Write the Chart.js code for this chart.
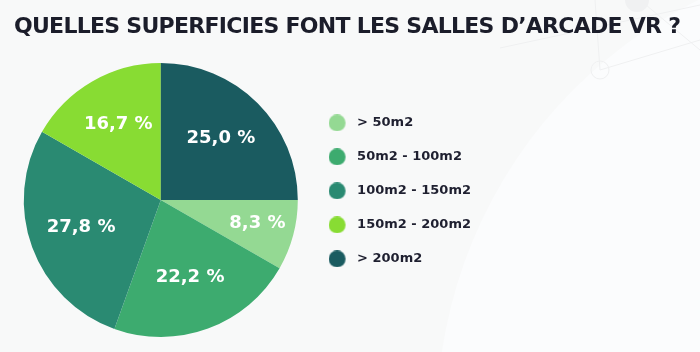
<!DOCTYPE html>
<html>
<head>
<meta charset="utf-8">
<script src="https://cdn.jsdelivr.net/npm/chart.js@4"></script>
<style>
  html, body { margin: 0; padding: 0; background: #f8f9f9; }
  #wrap { width: 700px; height: 352px; position: relative; }
</style>
</head>
<body>
<div id="wrap"><canvas id="pieChart"></canvas></div>
<script>
// data
const categories = ["> 50m2", "50m2 - 100m2", "100m2 - 150m2", "150m2 - 200m2", "> 200m2"];
const shares = [8.3, 22.2, 27.8, 16.7, 25.0];
const colors = ["#94d993", "#3dab6f", "#2a8a72", "#88dc33", "#1a5b60"];
const titleText = "QUELLES SUPERFICIES FONT LES SALLES D\u2019ARCADE VR ?";

const FONT = "'DejaVu Sans', 'Open Sans', sans-serif";

// faint decoration behind the chart (top right)
const backdrop = {
  id: "backdrop",
  beforeDraw(chart) {
    const ctx = chart.ctx;
    ctx.save();
    ctx.fillStyle = "#fbfcfd";
    ctx.beginPath();
    ctx.arc(905, 420, 468, 0, Math.PI * 2);
    ctx.fill();
    ctx.strokeStyle = "#eff0f1";
    ctx.lineWidth = 1;
    ctx.beginPath();
    ctx.moveTo(500, 48); ctx.lineTo(700, 5);
    ctx.moveTo(595, 0); ctx.lineTo(600, 70);
    ctx.moveTo(600, 70); ctx.lineTo(700, 40);
    ctx.moveTo(640, 0); ctx.lineTo(700, 50);
    ctx.stroke();
    ctx.beginPath();
    ctx.arc(600, 70, 9, 0, Math.PI * 2);
    ctx.stroke();
    ctx.fillStyle = "#f0f1f2";
    ctx.beginPath();
    ctx.arc(637, 0, 12, 0, Math.PI * 2);
    ctx.fill();
    ctx.restore();
  },
};

// wide spaced title, stretched over the given width
const wideTitle = {
  id: "wideTitle",
  afterDraw(chart) {
    const ctx = chart.ctx;
    const left = 14, right = 681, baseline = 33;
    ctx.save();
    ctx.fillStyle = "#1b1d2a";
    ctx.font = "bold 22px " + FONT;
    ctx.textBaseline = "alphabetic";
    const chars = Array.from(titleText);
    const widths = chars.map((c) => ctx.measureText(c).width);
    const total = widths.reduce((a, b) => a + b, 0);
    const gap = (right - left - total) / (chars.length - 1);
    let x = left;
    chars.forEach((c, i) => {
      ctx.fillText(c, x, baseline);
      x += widths[i] + gap;
    });
    ctx.restore();
  },
};

// writes "25,0 %" inside each slice
const sliceLabels = {
  id: "sliceLabels",
  afterDatasetsDraw(chart) {
    const ctx = chart.ctx;
    const meta = chart.getDatasetMeta(0);
    ctx.save();
    ctx.fillStyle = "#ffffff";
    ctx.font = "bold 18px " + FONT;
    ctx.textAlign = "center";
    ctx.textBaseline = "middle";
    meta.data.forEach((arc, i) => {
      const p = arc.getProps(["x", "y", "startAngle", "endAngle", "outerRadius"], true);
      const mid = (p.startAngle + p.endAngle) / 2;
      const r = p.outerRadius * (shares[i] < 10 ? 0.73 : 0.62);
      const txt = shares[i].toFixed(1).replace(".", ",") + " %";
      ctx.fillText(txt, p.x + Math.cos(mid) * r, p.y + Math.sin(mid) * r - 2);
    });
    ctx.restore();
  },
};

// legend dot: 17px circle on the left of a wider transparent box
function legendDot(color) {
  const c = document.createElement("canvas");
  c.width = 22;
  c.height = 17;
  const g = c.getContext("2d");
  g.fillStyle = color;
  g.beginPath();
  g.arc(8.5, 8.5, 8.5, 0, Math.PI * 2);
  g.fill();
  return c;
}

new Chart(document.getElementById("pieChart"), {
  type: "pie",
  data: {
    labels: categories,
    datasets: [
      {
        data: shares,
        backgroundColor: colors,
        borderWidth: 0,
      },
    ],
  },
  options: {
    responsive: true,
    maintainAspectRatio: false,
    animation: false,
    rotation: 90,
    layout: { padding: { left: 14, right: 219, bottom: 15, top: 63 } },
    plugins: {
      tooltip: { enabled: false },
      title: { display: false },
      legend: {
        position: "right",
        align: "start",
        title: { display: true, text: "", font: { size: 12 }, padding: 9 },
        labels: {
          usePointStyle: true,
          pointStyleWidth: 22,
          boxHeight: 12,
          padding: 21,
          color: "#1f2030",
          font: { family: FONT, size: 13, weight: "bold" },
          generateLabels(chart) {
            const items = Chart.overrides.pie.plugins.legend.labels.generateLabels(chart);
            items.forEach((it, i) => {
              it.pointStyle = legendDot(colors[i]);
            });
            return items;
          },
        },
      },
    },
  },
  plugins: [backdrop, sliceLabels, wideTitle],
});
</script>
</body>
</html>
